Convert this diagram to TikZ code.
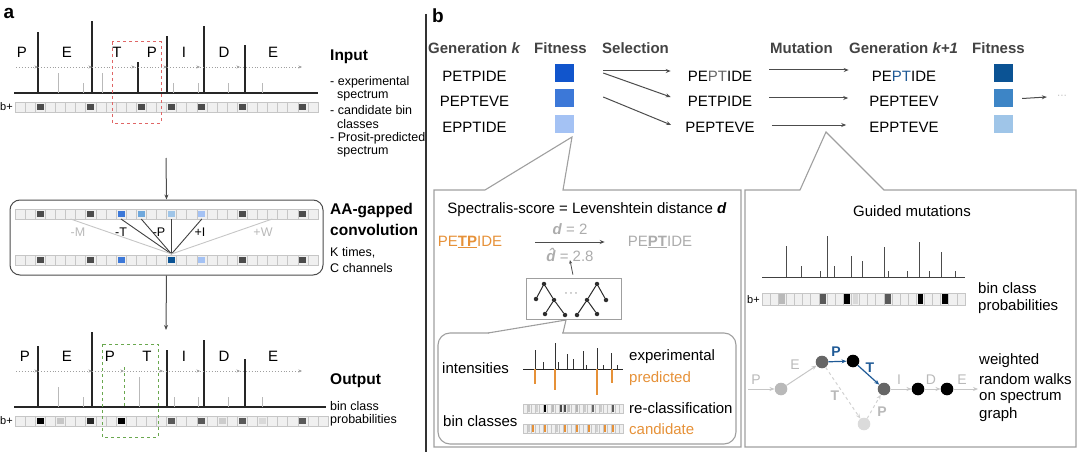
\documentclass[tikz,border=0pt]{standalone}
\usepackage{fontspec}
\setmainfont{Liberation Sans}
\usetikzlibrary{arrows.meta,positioning}

\definecolor{orng}{HTML}{E69138}
\definecolor{navy}{HTML}{0B5394}
\definecolor{walkblue}{HTML}{1F5A96}
\definecolor{fitA}{HTML}{1155CC}
\definecolor{fitB}{HTML}{3C78D8}
\definecolor{fitC}{HTML}{A4C2F4}
\definecolor{fitE}{HTML}{3D85C6}
\definecolor{fitF}{HTML}{9FC5E8}
\definecolor{convA}{HTML}{6FA8DC}
\definecolor{hdrgrey}{HTML}{434343}
\definecolor{redbox}{HTML}{E06666}
\definecolor{grnbox}{HTML}{6AA84F}

% row of empty bins: x, y, cells, width, height
\newcommand{\binrow}[5]{%
  \foreach \bi in {1,...,#3}{\draw[bincell] ({#1+(\bi-1)*#4},#2) rectangle ++(#4,#5);}}
% one filled bin: x, y, index, width, height, colour
\newcommand{\binfill}[6]{%
  \fill[#6] ({#1+(#3+0.15)*#4},{#2+0.15*#4}) rectangle ++({0.7*#4},{#5-0.3*#4})}

\begin{document}
\begin{tikzpicture}[x=1pt, y=-1pt,
    txt/.style={font=\fontsize{15}{18}\selectfont, inner sep=0pt},
    note/.style={font=\fontsize{12.5}{14}\selectfont, inner sep=0pt, anchor=west},
    head/.style={font=\fontsize{15.5}{18}\selectfont\bfseries, inner sep=0pt, anchor=west},
    hdr/.style={font=\fontsize{15}{18}\selectfont\bfseries, text=hdrgrey, inner sep=0pt, anchor=west},
    panel/.style={font=\fontsize{19}{20}\selectfont\bfseries, inner sep=0pt},
    bincell/.style={fill=gray!12, draw=gray!45, line width=0.6},
    peak/.style={line width=1.2, black!85},
    lowpeak/.style={line width=1, gray!55},
    base/.style={line width=1.3, black!85},
    dotline/.style={gray!75, line width=0.9, dotted, -{Stealth[length=3.5pt, width=3pt]}},
    flow/.style={gray!60!black, line width=1, -{Stealth[length=5pt, width=4pt]}},
    fit/.style={minimum width=19, minimum height=18, inner sep=0pt},
    frame/.style={gray!75, line width=1.1},
    dot/.style={circle, fill=gray!35!black, minimum size=4.5, inner sep=0pt},
    walk/.style={circle, minimum size=12.6, inner sep=0pt},
    elbl/.style={font=\fontsize{14}{16}\selectfont, text=gray!55, inner sep=0pt},
    gedge/.style={gray!45, line width=1, -{Stealth[length=5pt, width=4pt]}},
    bedge/.style={walkblue, line width=1.2, -{Stealth[length=5pt, width=4pt]}},
    dedge/.style={gray!35, dashed, line width=1, -{Stealth[length=5pt, width=4pt]}}
    ]
    \useasboundingbox (0,0) rectangle (1080,452);

    %Panel a: input
    \node[panel] (pa) at (9,13) {a};
    \draw[base] (14,93) -- (318,93);
    \foreach \x/\t in {38/32, 92/21, 138/62, 167/36, 204/26, 245/45}
        \draw[peak] (\x,93) -- (\x,\t);
    \foreach \x/\t in {58/73, 83/83, 102/73, 173/83, 198/83, 228/83, 262/83}
        \draw[lowpeak] (\x,93) -- (\x,\t);
    \foreach \a/\b in {16/38, 38/92, 92/135, 135/167, 167/200, 200/240, 240/302}
        \draw[dotline] (\a,67) -- (\b,67);
    \foreach \l/\x [count=\n] in {P/22, E/67, T/117, P/152, I/184, D/224, E/273}
        \node[txt] (ina\n) at (\x,52) {\l};
    \binrow{15}{102}{30}{10.1}{10}
    \foreach \i in {2,7,12,15,18,22,28}
        \binfill{15}{102}{\i}{10.1}{10}{black!70};
    \node[note, font=\fontsize{11}{12}\selectfont] (bpa) at (0,107) {b+};
    \draw[redbox, dashed, line width=1] (112,42) rectangle (161,123);

    \node[head] (input) at (330,57) {Input};
    \node[note] (ia) at (330,82) {- experimental};
    \node[note] (ib) at (337,96) {spectrum};
    \node[note] (ic) at (330,110) {- candidate bin};
    \node[note] (id) at (337,124) {classes};
    \node[note] (ie) at (330,138) {- Prosit-predicted};
    \node[note] (if) at (337,152) {spectrum};

    %Panel a: convolution
    \coordinate (inbot) at (166,158);
    \node[draw=gray!60!black, line width=1, rounded corners=10, minimum width=313,
          minimum height=75, inner sep=0pt] (conv) at (166.5,237.5) {};
    \draw[flow] (inbot) -- (conv.north);
    \binrow{15}{209}{30}{10.1}{10}
    \binrow{15}{255}{30}{10.1}{10}
    \foreach \i/\c in {2/black!70, 7/black!70, 10/fitB, 12/convA, 15/fitF, 18/fitC, 22/black!70, 28/black!70}
        \binfill{15}{209}{\i}{10.1}{10}{\c};
    \foreach \i/\c in {2/black!70, 7/black!70, 10/fitB, 15/navy, 18/fitC, 22/black!70, 28/black!70}
        \binfill{15}{255}{\i}{10.1}{10}{\c};
    \coordinate (hub) at (171.5,254);
    \foreach \x in {121, 141.25, 171.5, 201.8}
        \draw[black!75, line width=0.9] (\x,219) -- (hub);
    \foreach \x in {70.55, 272.3}
        \draw[gray!45, line width=0.9] (\x,219) -- (hub);
    \node[note, anchor=center, text=gray!55] (gm) at (78,232) {-M};
    \node[note, anchor=center] (gt) at (121,232) {-T};
    \node[note, anchor=center] (gp) at (159,232) {-P};
    \node[note, anchor=center] (gi) at (200,232) {+I};
    \node[note, anchor=center, text=gray!55] (gw) at (263,232) {+W};

    \node[head] (aag) at (330,211) {AA-gapped};
    \node[head] (cnv) at (330,230) {convolution};
    \node[note] (kt) at (330,253) {K times,};
    \node[note] (cc) at (330,268) {C channels};

    %Panel a: output
    \coordinate (outtop) at (166,330);
    \draw[flow] (conv.south) -- (outtop);
    \draw[base] (14,407) -- (326,407);
    \foreach \x/\t in {38/346, 92/332, 167/350, 204/340, 245/359}
        \draw[peak] (\x,407) -- (\x,\t);
    \foreach \x/\t in {58/387, 83/397, 139/377, 174/397, 198/397, 228/397, 262/397}
        \draw[lowpeak] (\x,407) -- (\x,\t);
    \draw[grnbox, dashed, line width=1] (124,367) -- (124,407);
    \foreach \a/\b in {16/38, 38/92, 92/124, 124/163, 163/200, 200/240, 240/302}
        \draw[dotline] (\a,371) -- (\b,371);
    \foreach \l/\x [count=\n] in {P/25, E/67, P/110, T/147, I/184, D/224, E/273}
        \node[txt] (outa\n) at (\x,356) {\l};
    \binrow{15}{416}{31}{10.1}{10}
    \foreach \i/\c in {2/black, 4/gray!45, 7/black!85, 10/black, 15/black!65, 18/black!65, 20/gray!40, 22/black!65, 24/gray!30, 28/black!65}
        \binfill{15}{416}{\i}{10.1}{10}{\c};
    \node[note, font=\fontsize{11}{12}\selectfont] (bpb) at (0,421) {b+};
    \draw[grnbox, dashed, line width=1] (102,344) rectangle (158,437);

    \node[head] (output) at (330,381) {Output};
    \node[note] (oa) at (330,406) {bin class};
    \node[note] (ob) at (330,420) {probabilities};

    \draw[line width=1.2, black!80] (426,14) -- (426,452);

    %Panel b: genetic algorithm
    \node[panel] (pb) at (438,16) {b};
    \node[hdr] (hgk) at (428,48) {Generation \textit{k}};
    \node[hdr] (hfa) at (534,48) {Fitness};
    \node[hdr] (hsel) at (602,48) {Selection};
    \node[hdr] (hmut) at (770,48) {Mutation};
    \node[hdr] (hgk1) at (849,48) {Generation \textit{k+1}};
    \node[hdr] (hfb) at (972,48) {Fitness};

    \node[txt] (ga) at (474.5,76) {PETPIDE};
    \node[txt] (gb) at (474.5,101) {PEPTEVE};
    \node[txt] (gc) at (474.5,127) {EPPTIDE};
    \node[fit, fill=fitA] (fa1) at (564,73) {};
    \node[fit, fill=fitB] (fa2) at (564,98.5) {};
    \node[fit, fill=fitC] (fa3) at (564,124) {};

    \node[txt] (sa) at (720,76) {PE\textcolor{black!60}{PT}IDE};
    \node[txt] (sb) at (720,101) {PETPIDE};
    \node[txt] (sc) at (720,127) {PEPTEVE};

    \node[txt] (ma) at (904,76) {PE\textcolor{walkblue}{PT}IDE};
    \node[txt] (mb) at (904,101) {PEPTEEV};
    \node[txt] (mc) at (904,127) {EPPTEVE};
    \node[fit, fill=navy] (fb1) at (1003,73) {};
    \node[fit, fill=fitE] (fb2) at (1003,98.5) {};
    \node[fit, fill=fitF] (fb3) at (1003,124) {};
    \node[txt, font=\fontsize{10}{10}\selectfont, text=gray!60] (more) at (1062,97) {···};

    %Lines
    \draw[flow] ([xshift=29.5,yshift=2]fa1.east) -- ([xshift=-17,yshift=5]sa.west);
    \draw[flow] ([xshift=29.5,yshift=0]fa1.east) -- ([xshift=-17,yshift=4]sb.west);
    \draw[flow] ([xshift=29.5,yshift=1.5]fa2.east) -- ([xshift=-14,yshift=2]sc.west);
    \draw[flow] ([xshift=17,yshift=6]sa.east) -- ([xshift=-23,yshift=6]ma.west);
    \draw[flow] ([xshift=17,yshift=3]sb.east) -- ([xshift=-21,yshift=3]mb.west);
    \draw[flow] ([xshift=17,yshift=2]sc.east) -- ([xshift=-23,yshift=2]mc.west);
    \draw[flow] ([xshift=9.5]fb2.east) -- ([xshift=-10]more.west);

    %Panel b: Spectralis-score box
    \coordinate (tipL) at (572,137);
    \draw[frame] (tipL) -- (563,190) -- (741,190) -- (741,447) -- (434,447) -- (434,190) -- (485,190) -- cycle;
    \node[txt] (score) at (587,210) {Spectralis-score = Levenshtein distance \textbf{\textit{d}}};
    \node[txt, text=orng] (cand) at (470,242) {PE\underline{\textbf{TP}}IDE};
    \node[txt, text=gray!65] (truth) at (660,242) {PE\underline{\textbf{PT}}IDE};
    \draw[flow] ([xshift=33]cand.east) -- ([xshift=-23]truth.west);
    \node[txt, text=gray!65] (dlev) at (570,229) {\textbf{\textit{d}} = 2};
    \node[txt, text=gray!65] (dhat) at (570,255) {{\bfseries\itshape \^{d}} = 2.8};

    \node[draw=gray!75, line width=1, minimum width=95, minimum height=41, inner sep=0pt] (trees) at (573.5,298.5) {};
    \draw[gray!60!black, line width=0.8, -{Stealth[length=3.5pt, width=3pt]}, shorten <=3pt] (trees.north) -- ([yshift=2]dhat.south);
    \node[dot] (r1) at (544,284) {};
    \node[dot] (a1) at (536,299) {};
    \node[dot] (b1) at (554,300) {};
    \node[dot] (c1) at (545,314) {};
    \node[dot] (d1) at (565,315) {};
    \node[dot] (r2) at (597,284) {};
    \node[dot] (a2) at (587,300) {};
    \node[dot] (b2) at (606,300) {};
    \node[dot] (c2) at (577,315) {};
    \node[dot] (d2) at (597,314) {};
    \foreach \u/\v in {r1/a1, r1/b1, b1/c1, b1/d1, r2/a2, r2/b2, a2/c2, a2/d2}
        \draw[gray!35!black, line width=1] (\u) -- (\v);
    \node[txt, text=gray!60] (tdots) at (571,295) {···};

    \coordinate (tipT) at (566,320);
    \draw[frame, rounded corners=12] (438,333) rectangle (736,444);
    \fill[white] (489,331) rectangle (562,335.5);
    \draw[frame] (488,333) -- (tipT) -- (563,333);

    \node[txt, anchor=west] (inten) at (442,368) {intensities};
    \draw[black!85, line width=1] (523,369) -- (623,369);
    \foreach \x/\t in {535/350, 543/362, 555/343, 558/362, 567/354, 573/359, 583/351, 586/365, 597/348, 603/365, 611/353, 617/365}
        \draw[black!80, line width=1] (\x,369) -- (\x,\t);
    \foreach \x/\t in {535/384, 555/390, 597/395, 612/383}
        \draw[orng, line width=1.2] (\x,369) -- (\x,\t);
    \node[txt, anchor=west] (expl) at (629,357) {experimental};
    \node[txt, anchor=west, text=orng] (pred) at (629,379) {predicted};

    \node[txt, anchor=west] (binc) at (443,421) {bin classes};
    \binrow{523}{404}{25}{4}{9}
    \foreach \i/\c in {1/gray!45, 3/gray!35, 5/black, 7/gray!55, 9/black!70, 10/black!70, 11/gray!50, 13/gray!60, 15/gray!40, 17/black!60, 19/gray!40, 22/black!65}
        \binfill{523}{404}{\i}{4}{9}{\c};
    \binrow{523}{424}{25}{4}{9}
    \foreach \i/\c in {1/gray!40, 2/orng, 5/orng, 8/gray!40, 10/orng, 13/orng, 16/orng, 18/gray!35, 20/orng, 22/orng}
        \binfill{523}{424}{\i}{4}{9}{\c};
    \node[txt, anchor=west] (recl) at (629,408) {re-classification};
    \node[txt, anchor=west, text=orng] (cndt) at (629,429) {candidate};

    %Panel b: guided mutations box
    \coordinate (tipR) at (826,132);
    \draw[frame] (tipR) -- (884,190) -- (1076,190) -- (1076,447) -- (745,447) -- (745,190) -- (800,190) -- cycle;
    \node[txt] (guided) at (912,211) {Guided mutations};
    \draw[black!75, line width=1] (762,277) -- (965,277);
    \foreach \x/\t in {786/246, 801/266, 820/271, 827/236, 834/266, 851/256, 862/261, 884/247, 888/271, 907/271, 919/242, 929/271, 941/252, 955/271}
        \draw[black!70, line width=1] (\x,277) -- (\x,\t);
    \binrow{762}{293}{25}{8.12}{12}
    \foreach \i/\c in {2/gray!55, 7/black!65, 10/black, 11/gray!30, 15/black!65, 19/black, 22/black}
        \binfill{762}{293}{\i}{8.12}{12}{\c};
    \node[note, font=\fontsize{11}{12}\selectfont] (bpc) at (747,300) {b+};
    \node[txt, anchor=west] (bca) at (978,288) {bin class};
    \node[txt, anchor=west] (bcb) at (978,307) {probabilities};

    \node[walk, fill=gray!55] (n1) at (781,389) {};
    \node[walk, fill=black!60] (n2) at (822,362) {};
    \node[walk, fill=black] (n3) at (853,361) {};
    \node[walk, fill=black!60] (n4) at (884,389) {};
    \node[walk, fill=gray!28] (n5) at (864,424) {};
    \node[walk, fill=black] (n6) at (918,389) {};
    \node[walk, fill=black] (n7) at (947,389) {};
    \coordinate (win) at (748,389);
    \coordinate (wout) at (978,389);
    \draw[gedge] (win) -- (n1);
    \draw[gedge] (n1) -- (n2);
    \draw[bedge] (n2) -- (n3);
    \draw[bedge] (n3) -- (n4);
    \draw[dedge] (n2) -- (n5);
    \draw[dedge] (n5) -- (n4);
    \draw[gedge] (n4) -- (n6);
    \draw[gedge] (n6) -- (n7);
    \draw[gedge] (n7) -- (wout);
    \node[elbl] (lp0) at (756,380) {P};
    \node[elbl] (le1) at (795,365) {E};
    \node[elbl, text=walkblue, font=\fontsize{14}{16}\selectfont\bfseries] (lp1) at (836,352) {P};
    \node[elbl, text=walkblue, font=\fontsize{14}{16}\selectfont\bfseries] (lt1) at (870,368) {T};
    \node[elbl, font=\fontsize{14}{16}\selectfont\bfseries] (lt2) at (835,396) {T};
    \node[elbl, font=\fontsize{14}{16}\selectfont\bfseries] (lp2) at (882,412) {P};
    \node[elbl] (li) at (899,380) {I};
    \node[elbl] (ld) at (931,380) {D};
    \node[elbl] (le2) at (962,380) {E};
    \node[txt, anchor=west] (wa) at (979,361) {weighted};
    \node[txt, anchor=west] (wb) at (979,379) {random walks};
    \node[txt, anchor=west] (wc) at (979,397) {on spectrum};
    \node[txt, anchor=west] (wd) at (979,415) {graph};
\end{tikzpicture}
\end{document}
